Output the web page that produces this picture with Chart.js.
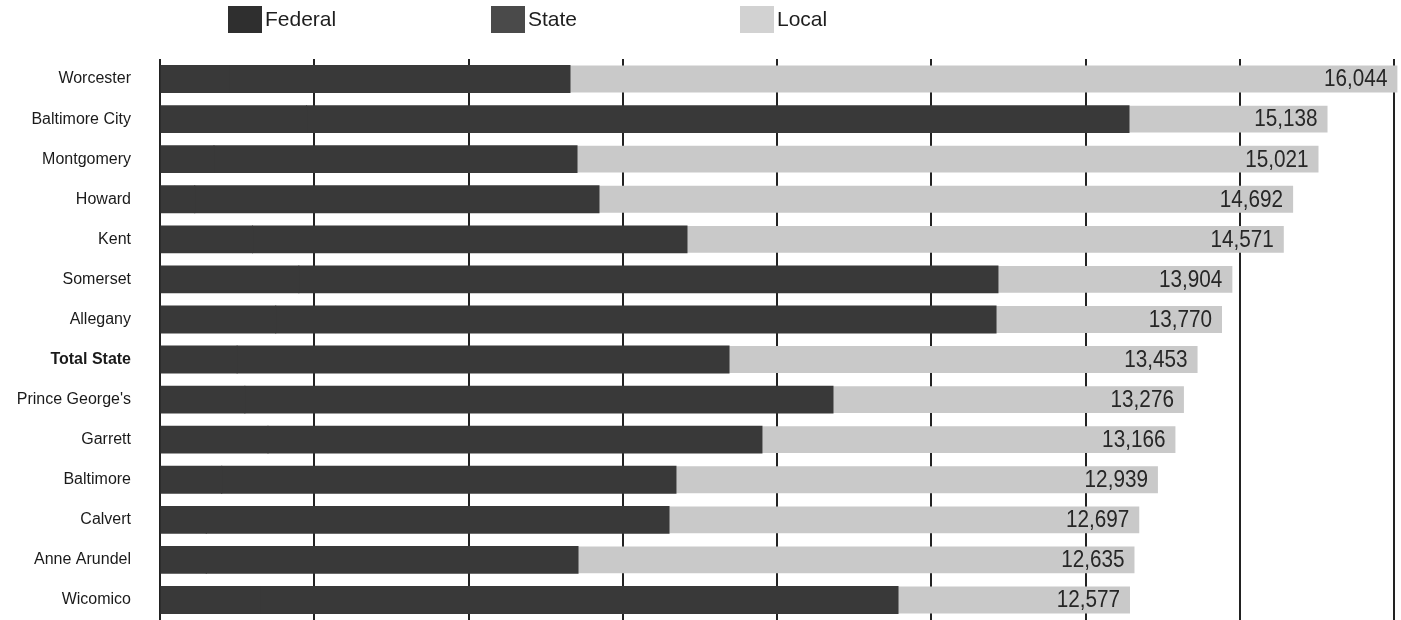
<!DOCTYPE html>
<html>
<head>
<meta charset="utf-8">
<script src="https://cdn.jsdelivr.net/npm/chart.js@4.4.0/dist/chart.umd.min.js"></script>
<style>
  html, body { margin: 0; padding: 0; background: #ffffff; overflow: hidden; }
  #wrap { position: relative; width: 1401px; height: 620px; }
  #legend { position: absolute; left: 0; top: 0; width: 1401px; height: 40px; font-family: "Liberation Sans", Arial, sans-serif; font-size: 21px; color: #1e1e1e; }
  .item { position: absolute; top: 5px; height: 28px; display: flex; align-items: center; }
  .sw { width: 34px; height: 27px; margin-right: 3px; }
</style>
</head>
<body>
<div id="wrap">
  <canvas id="c" width="1401" height="620"></canvas>
  <div id="legend"></div>
</div>
<script>
const categories = ["Worcester", "Baltimore City", "Montgomery", "Howard", "Kent", "Somerset", "Allegany", "Total State", "Prince George's", "Garrett", "Baltimore", "Calvert", "Anne Arundel", "Wicomico"];
const seriesNames = ["Federal", "State", "Local"];
const federal = [900, 1900, 700, 450, 1200, 1800, 1500, 1000, 1100, 1400, 800, 600, 600, 1300];
const state   = [4416, 10664, 4707, 5242, 5633, 9065, 9340, 6378, 7626, 6405, 5890, 6000, 4820, 8269];
const local   = [10728, 2574, 9614, 9000, 7738, 3039, 2930, 6075, 4550, 5361, 6249, 6097, 7215, 3008];
const totalLabels = ["16,044", "15,138", "15,021", "14,692", "14,571", "13,904", "13,770", "13,453", "13,276", "13,166", "12,939", "12,697", "12,635", "12,577"];
const xTicks = [0, 2000, 4000, 6000, 8000, 10000, 12000, 14000, 16000];

const colors = ["#393939", "#393939", "#c9c9c9"];
const legendColors = ["#2f2f2f", "#4a4a4a", "#d2d2d2"];
const legendX = [228, 491, 740];

// HTML legend built from the series names
const lg = document.getElementById('legend');
seriesNames.forEach((n, i) => {
  const d = document.createElement('div');
  d.className = 'item';
  d.style.left = legendX[i] + 'px';
  const s = document.createElement('div');
  s.className = 'sw';
  s.style.background = legendColors[i];
  const t = document.createElement('span');
  t.textContent = n;
  d.appendChild(s); d.appendChild(t);
  lg.appendChild(d);
});

const totalsPlugin = {
  id: 'totalsPlugin',
  afterDatasetsDraw(chart) {
    const ctx = chart.ctx;
    const meta = chart.getDatasetMeta(2);
    ctx.save();
    ctx.fillStyle = '#262626';
    ctx.textAlign = 'right';
    ctx.textBaseline = 'middle';
    meta.data.forEach((el, i) => {
      ctx.save();
      ctx.translate(el.x - 10, el.y + 1);
      ctx.scale(0.9, 1);
      ctx.font = '23px "Liberation Sans", Arial, sans-serif';
      ctx.fillText(totalLabels[i], 0, 0);
      ctx.restore();
    });
    ctx.restore();
  }
};

new Chart(document.getElementById('c'), {
  type: 'bar',
  data: {
    labels: categories,
    datasets: seriesNames.map((n, i) => ({
      label: n,
      data: [federal, state, local][i],
      backgroundColor: colors[i],
      borderWidth: 0,
      inflateAmount: i < 2 ? 0.5 : 0,
      categoryPercentage: 1,
      barPercentage: 0.67,
      clip: false
    }))
  },
  options: {
    indexAxis: 'y',
    responsive: false,
    animation: false,
    layout: { padding: { top: 59, right: 7, bottom: 0, left: 0 } },
    plugins: { legend: { display: false }, tooltip: { enabled: false } },
    scales: {
      x: {
        stacked: true, min: 0, max: 16000,
        afterBuildTicks(scale) { scale.ticks = xTicks.map(v => ({ value: v })); },
        afterFit(scale) { scale.height = 0; },
        ticks: { display: false },
        grid: { color: '#222222', lineWidth: 2, drawTicks: false },
        border: { display: false }
      },
      y: {
        stacked: true,
        afterFit(scale) { scale.width = 160; scale.paddingTop = 0; scale.paddingBottom = 0; },
        grid: { display: false, drawTicks: false },
        border: { display: false },
        ticks: {
          padding: 29, color: '#1a1a1a',
          font: (c) => ({ family: '"Liberation Sans", Arial, sans-serif', size: 16, weight: (categories[c.index] === 'Total State') ? 'bold' : 'normal' })
        }
      }
    }
  },
  plugins: [totalsPlugin]
});
</script>
</body>
</html>
